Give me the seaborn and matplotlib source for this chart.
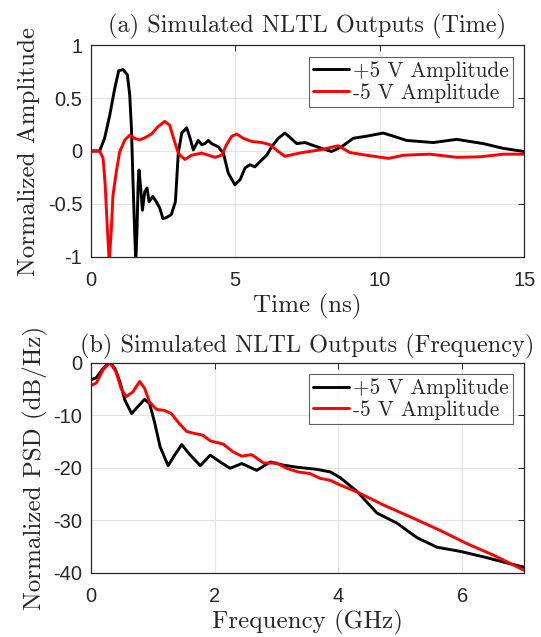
import numpy as np
import pandas as pd
import matplotlib
matplotlib.use("Agg")
import matplotlib.pyplot as plt
from matplotlib.ticker import FuncFormatter
import seaborn as sns

# ---- Data: (a) time-domain ----
t_pos = [0, 0.31, 0.48, 0.66, 0.83, 0.97, 1.12, 1.27, 1.35, 1.41, 1.46, 1.52, 1.56, 1.6, 1.64, 1.67,
         1.72, 1.79, 1.87, 1.95, 2.02, 2.15, 2.27, 2.39, 2.5, 2.62, 2.79, 2.93, 3.03, 3.15, 3.32, 3.44,
         3.55, 3.72, 3.84, 3.95, 4.07, 4.18, 4.41, 4.59, 4.76, 4.99, 5.17, 5.34, 5.51, 5.68, 5.86, 6.09,
         6.26, 6.49, 6.72, 7.13, 7.41, 7.93, 8.33, 8.68, 9.08, 9.54, 10.12, 10.47, 10.93, 11.85, 12.66,
         13.58, 14.27, 15.0]
y_pos = [0, 0.0, 0.12, 0.34, 0.59, 0.76, 0.77, 0.72, 0.53, 0.21, -0.26, -0.76, -1.05, -0.76, -0.32, -0.18,
         -0.32, -0.56, -0.385, -0.35, -0.48, -0.43, -0.48, -0.54, -0.64, -0.63, -0.6, -0.48, -0.02, 0.17, 0.22, 0.12,
         0.01, 0.10, 0.06, 0.07, 0.10, 0.07, 0.04, -0.02, -0.21, -0.32, -0.27, -0.16, -0.13, -0.15, -0.10, -0.04,
         0.04, 0.12, 0.17, 0.07, 0.08, 0.03, -0.005, 0.04, 0.12, 0.14, 0.17, 0.14, 0.1, 0.08, 0.11,
         0.07, 0.025, -0.005]
t_neg = [0, 0.31, 0.43, 0.5, 0.57, 0.64, 0.71, 0.77, 0.89, 1.0, 1.18, 1.35, 1.52, 1.7, 1.87, 2.1,
         2.33, 2.56, 2.73, 2.9, 3.02, 3.09, 3.26, 3.49, 3.84, 4.07, 4.3, 4.53, 4.7, 4.88, 5.05, 5.28,
         5.57, 5.92, 6.2, 6.49, 6.72, 7.3, 7.93, 8.56, 8.97, 9.54, 10.3, 10.82, 11.74, 12.66, 13.47,
         14.27, 15.0]
y_neg = [0, 0.0, -0.07, -0.32, -0.70, -1.05, -0.76, -0.42, -0.19, -0.01, 0.105, 0.15, 0.12, 0.105, 0.125, 0.16,
         0.23, 0.28, 0.245, 0.09, -0.01, -0.04, -0.08, -0.04, -0.02, -0.04, -0.06, -0.04, 0.06, 0.14, 0.16, 0.12,
         0.09, 0.08, 0.06, -0.005, -0.05, -0.015, 0.01, 0.05, -0.015, -0.04, -0.07, -0.04, -0.03, -0.06, -0.055,
         -0.03, -0.03]

# ---- Data: (b) frequency-domain ----
f_pos = [0, 0.09, 0.2, 0.31, 0.39, 0.47, 0.55, 0.66, 0.76, 0.87, 0.95, 1.03, 1.12, 1.25, 1.36, 1.47,
         1.6, 1.77, 1.93, 2.09, 2.25, 2.44, 2.68, 2.9, 3.11, 3.33, 3.65, 3.87, 4.03, 4.3, 4.62, 4.94,
         5.27, 5.59, 5.97, 6.4, 6.72, 7.0]
p_pos = [-3.3, -2.9, -1.1, 0, -1.1, -3.6, -7.1, -9.7, -8.4, -7.0, -7.8, -11.3, -16.0, -19.6, -17.5, -15.6,
         -17.5, -19.6, -17.6, -18.9, -20.1, -19.2, -20.5, -18.9, -19.5, -19.9, -20.3, -20.8, -21.9, -24.5, -28.6, -30.5,
         -33.3, -35.1, -35.9, -37.1, -38.1, -38.9]
f_neg = [0, 0.09, 0.2, 0.31, 0.41, 0.49, 0.57, 0.68, 0.79, 0.87, 0.95, 1.06, 1.19, 1.3, 1.43, 1.55,
         1.68, 1.81, 1.93, 2.14, 2.3, 2.44, 2.6, 2.79, 3.0, 3.16, 3.35, 3.54, 3.7, 3.87, 4.03, 4.3,
         4.73, 5.21, 5.64, 6.07, 6.5, 7.0]
p_neg = [-4.4, -3.9, -1.4, 0, -1.8, -4.9, -6.5, -5.6, -3.6, -4.9, -7.5, -8.9, -9.1, -9.7, -11.6, -13.1,
         -13.5, -13.8, -14.9, -15.5, -17.0, -17.8, -17.5, -19.1, -19.1, -20.1, -20.8, -21.1, -22.0, -22.4, -23.3, -24.6,
         -27.1, -29.6, -31.9, -34.4, -36.6, -39.5]

labels = ["+5 V Amplitude", "-5 V Amplitude"]
colors = ["#000000", "#ff0000"]

sns.set_style("white")
plt.rcParams["font.family"] = ["cmr10", "DejaVu Serif"]
plt.rcParams["mathtext.fontset"] = "cm"
plt.rcParams["lines.solid_joinstyle"] = "round"

df_t = pd.concat([
    pd.DataFrame({"x": t_pos, "y": y_pos, "s": labels[0]}),
    pd.DataFrame({"x": t_neg, "y": y_neg, "s": labels[1]}),
])
df_f = pd.concat([
    pd.DataFrame({"x": f_pos, "y": p_pos, "s": labels[0]}),
    pd.DataFrame({"x": f_neg, "y": p_neg, "s": labels[1]}),
])

fig = plt.figure(figsize=(5.41, 6.37), dpi=100)
ax1 = fig.add_axes([90.7/541, 1-256.7/637, (524.3-90.7)/541, (256.7-45.3)/637])
ax2 = fig.add_axes([90.7/541, 1-573/637, (524.3-90.7)/541, (573-362.5)/637])

pal = dict(zip(labels, colors))
for ax, df in ((ax1, df_t), (ax2, df_f)):
    sns.lineplot(data=df, x="x", y="y", hue="s", palette=pal, linewidth=2.1,
                 sort=False, estimator=None, ax=ax)

fmt = FuncFormatter(lambda v, p: f"{v:g}")

def style(ax):
    ax.grid(True, color="#e4e4e4", linewidth=0.8)
    ax.set_axisbelow(True)
    for sp in ax.spines.values():
        sp.set_visible(True)
        sp.set_color("#262626")
        sp.set_linewidth(0.9)
    ax.xaxis.set_major_formatter(fmt)
    ax.yaxis.set_major_formatter(fmt)
    ax.tick_params(direction="in", top=True, right=True, length=4, width=0.7,
                   labelsize=14.5, colors="#262626", labelfontfamily="Liberation Sans")
    ax.tick_params(axis="x", pad=10)
    ax.tick_params(axis="y", pad=6)
    leg = ax.legend(loc="upper right", fontsize=15.3, frameon=True, fancybox=False,
                    handlelength=1.7, handletextpad=0.15, borderpad=0.2,
                    labelspacing=0.1, borderaxespad=0.55, edgecolor="#3a3a3a")
    leg.get_frame().set_linewidth(0.8)
    leg.set_title(None)

ax1.set_xlim(0, 15)
ax1.set_ylim(-1, 1)
ax1.set_xticks([0, 5, 10, 15])
ax1.set_yticks([-1, -0.5, 0, 0.5, 1])
ax1.set_xlabel("Time (ns)", fontsize=18, labelpad=3, color="#262626")
ax1.set_ylabel("Normalized Amplitude", fontsize=18, labelpad=6, color="#262626")
ax1.set_title("(a) Simulated NLTL Outputs (Time)", fontsize=17.5, pad=9)
style(ax1)

ax2.set_xlim(0, 7)
ax2.set_ylim(-40, 0)
ax2.set_xticks([0, 2, 4, 6])
ax2.set_yticks([-40, -30, -20, -10, 0])
ax2.set_xlabel("Frequency (GHz)", fontsize=18, labelpad=3, color="#262626")
ax2.set_ylabel("Normalized PSD (dB/Hz)", fontsize=18, labelpad=4, color="#262626")
ax2.set_title("(b) Simulated NLTL Outputs (Frequency)", fontsize=17.5, pad=7)
style(ax2)

fig.savefig("out.png", dpi=100)
